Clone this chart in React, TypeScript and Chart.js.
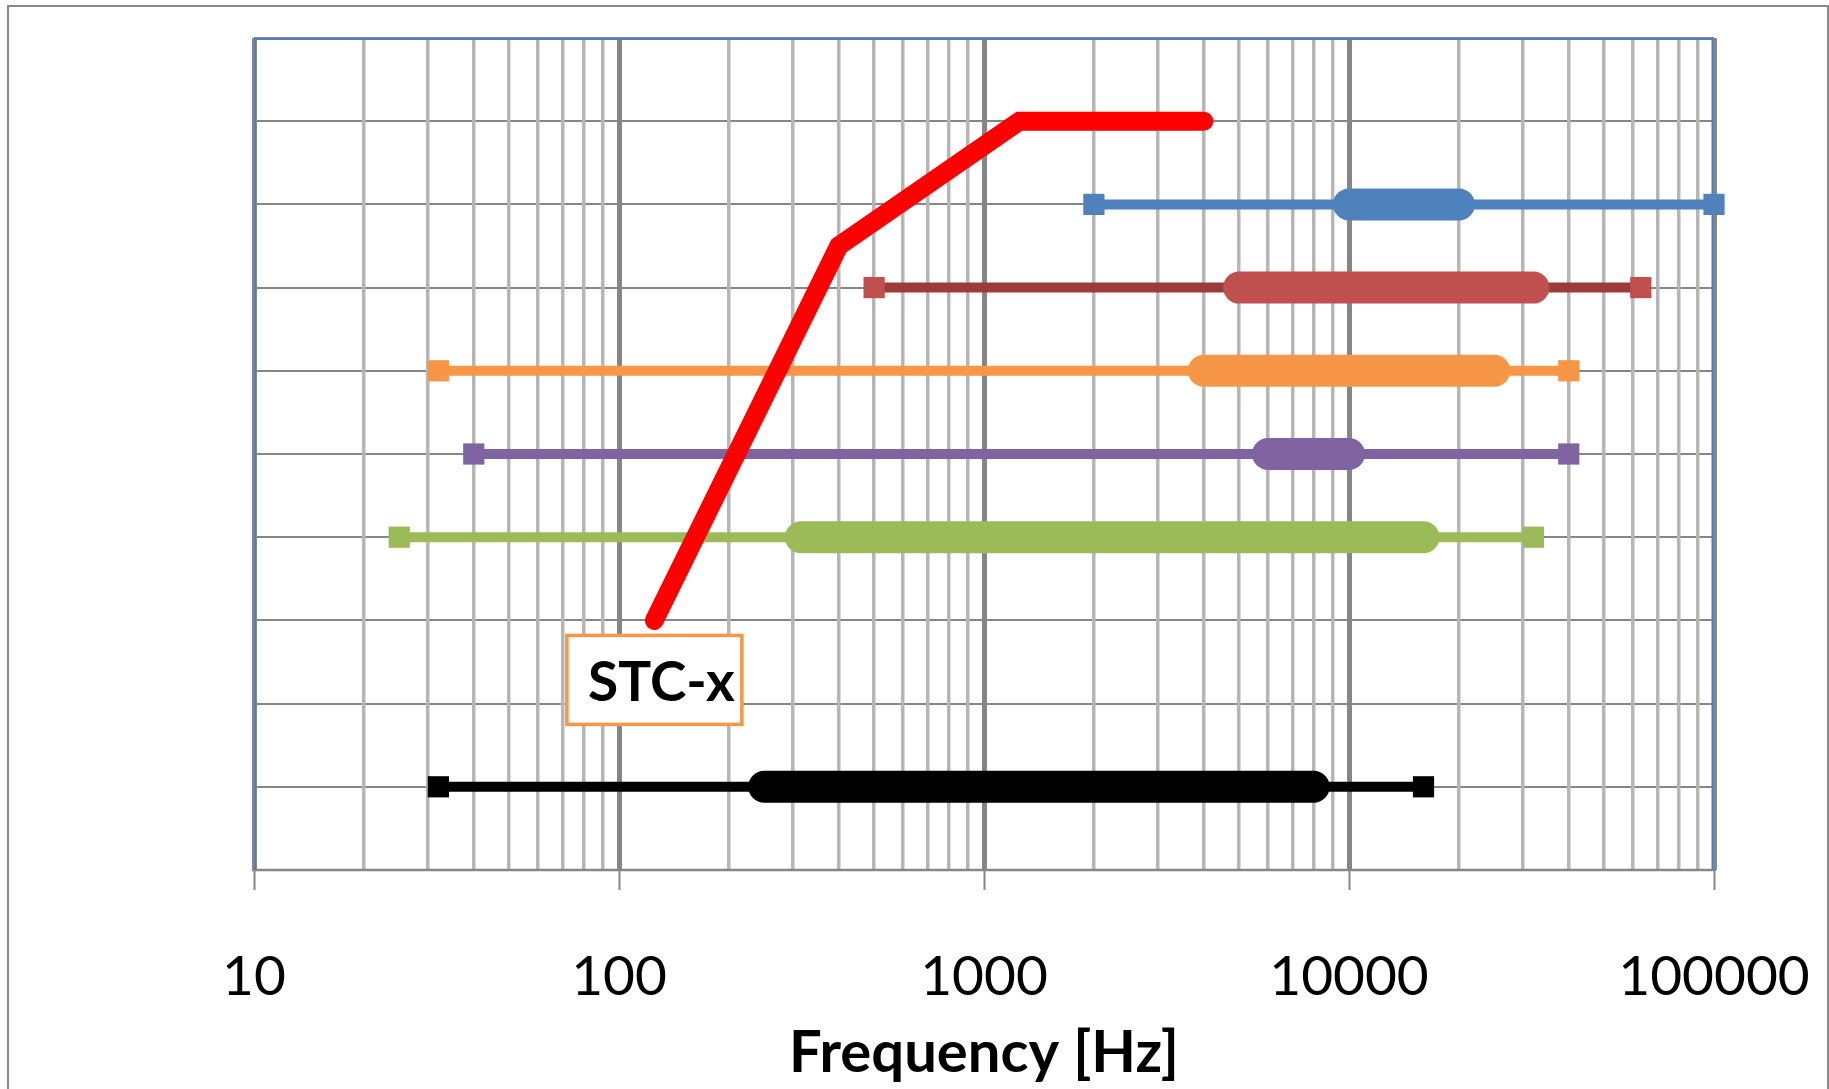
import React, { useEffect, useRef } from 'react';
import { Chart, registerables } from 'chart.js';

Chart.register(...registerables);

// ---- data ----
const xDecades = [10, 100, 1000, 10000, 100000];
const yMin = 0;
const yMax = 10;
const xTitle = 'Frequency [Hz]';

const stcFreq = [125, 400, 1250, 4000];
const stcLevel = [3, 7.5, 9, 9];
const stcLabel = 'STC-x';

const rangeLevel = [8, 7, 6, 5, 4, 1];
const rangeMin = [2000, 500, 32, 40, 25, 32];
const rangeMax = [100000, 63000, 40000, 40000, 32000, 16000];
const coreMin = [10000, 5000, 4000, 6000, 315, 250];
const coreMax = [20000, 32000, 25000, 10000, 16000, 8000];

// ---- styles ----
const rangeColor = ['#4F81BD', '#C0504D', '#F79646', '#8064A2', '#9BBB59', '#000000'];
const rangeLineColor = ['#4F81BD', '#9D3B39', '#F79646', '#8064A2', '#9BBB59', '#000000'];
const FONT = 'Lato';

const isDecade = (v: number) => {
  const l = Math.log10(v);
  return Math.abs(l - Math.round(l)) < 1e-9;
};

const xGridValues: number[] = [];
xDecades.forEach((d, i) => {
  if (i < xDecades.length - 1) {
    for (let m = 1; m < 10; m++) xGridValues.push(d * m);
  } else {
    xGridValues.push(d);
  }
});

const framePlugin = {
  id: 'frame',
  beforeDatasetsDraw(chart: any) {
    const { ctx, chartArea } = chart;
    const { left, right, top, bottom } = chartArea;
    ctx.save();
    ctx.strokeStyle = '#868686';
    ctx.lineWidth = 2.5;
    ctx.beginPath();
    ctx.moveTo(left - 2, bottom);
    ctx.lineTo(right + 2, bottom);
    ctx.stroke();
    ctx.strokeStyle = '#4F81BD';
    ctx.lineWidth = 2;
    ctx.beginPath();
    ctx.moveTo(left + 1, bottom);
    ctx.lineTo(left + 1, top + 1);
    ctx.lineTo(right - 1.5, top + 1);
    ctx.lineTo(right - 1.5, bottom);
    ctx.stroke();
    ctx.restore();
  },
  afterDatasetsDraw(chart: any) {
    const { ctx, scales } = chart;
    const ax = scales.x.getPixelForValue(stcFreq[0]);
    const ay = scales.y.getPixelForValue(stcLevel[0]);
    const w = 175;
    const h = 89;
    const top = ay + 15;
    const left = ax - w / 2;
    ctx.save();
    ctx.fillStyle = '#FFFFFF';
    ctx.fillRect(left, top, w, h);
    ctx.strokeStyle = '#F79646';
    ctx.lineWidth = 3.5;
    ctx.strokeRect(left, top, w, h);
    ctx.font = `bold 55px ${FONT}`;
    ctx.fillStyle = '#000000';
    ctx.textAlign = 'center';
    ctx.textBaseline = 'alphabetic';
    ctx.fillText(stcLabel, ax + 7, top + 66);
    ctx.restore();
  },
};

export default function App() {
  const ref = useRef<HTMLCanvasElement>(null);

  useEffect(() => {
    if (!ref.current) return;
    const datasets: any[] = [
      {
        label: 'STC',
        data: stcFreq.map((f, i) => ({ x: f, y: stcLevel[i] })),
        borderColor: '#FF0000',
        borderWidth: 19,
        borderCapStyle: 'round',
        borderJoinStyle: 'miter',
        pointRadius: 0,
        tension: 0,
        fill: false,
        clip: false,
      },
      ...rangeLevel.map((lv, i) => ({
        label: 'core' + i,
        data: [
          { x: coreMin[i], y: lv },
          { x: coreMax[i], y: lv },
        ],
        borderColor: rangeColor[i],
        borderWidth: 32,
        borderCapStyle: 'round',
        pointRadius: 0,
        tension: 0,
        fill: false,
        clip: false,
      })),
      ...rangeLevel.map((lv, i) => ({
        label: 'range' + i,
        data: [
          { x: rangeMin[i], y: lv },
          { x: rangeMax[i], y: lv },
        ],
        borderColor: rangeLineColor[i],
        borderWidth: 10,
        borderCapStyle: 'butt',
        pointStyle: 'rect',
        pointRadius: 15,
        pointHoverRadius: 15,
        pointBackgroundColor: rangeColor[i],
        pointBorderWidth: 0,
        tension: 0,
        fill: false,
        clip: false,
      })),
    ];

    const chart = new Chart(ref.current, {
      type: 'line',
      data: { datasets },
      plugins: [framePlugin],
      options: {
        animation: false,
        responsive: false,
        devicePixelRatio: 1,
        layout: { padding: { left: 245, top: 31, right: 113, bottom: 0 } },
        plugins: { legend: { display: false }, tooltip: { enabled: false } },
        events: [],
        scales: {
          y: {
            type: 'linear',
            min: yMin,
            max: yMax,
            ticks: { display: false, stepSize: 1 },
            grid: { color: '#868686', lineWidth: 2, drawTicks: false },
            border: { display: false },
            afterFit: (s: any) => {
              s.width = 0;
            },
          },
          x: {
            type: 'logarithmic',
            position: 'bottom',
            min: xDecades[0],
            max: xDecades[xDecades.length - 1],
            afterBuildTicks: (scale: any) => {
              scale.ticks = xGridValues.map((v) => ({ value: v }));
            },
            ticks: {
              autoSkip: false,
              maxRotation: 0,
              minRotation: 0,
              padding: 54,
              color: '#000000',
              font: { family: FONT, size: 55 },
              callback: (v: any) => (isDecade(Number(v)) ? String(v) : ''),
            },
            grid: {
              color: (c: any) => (c.tick && isDecade(c.tick.value) ? '#868686' : '#B6B6B6'),
              lineWidth: (c: any) => (c.tick && isDecade(c.tick.value) ? 5 : 3.5),
              tickColor: (c: any) => (c.tick && isDecade(c.tick.value) ? '#868686' : 'rgba(0,0,0,0)'),
              tickWidth: 2,
              tickLength: 20,
              drawTicks: true,
            },
            border: { display: false },
            title: {
              display: true,
              text: xTitle,
              color: '#000000',
              font: { family: FONT, size: 58, weight: 'bold' },
              padding: { top: 0, bottom: 1 },
            },
            afterFit: (s: any) => {
              s.height = 219;
              s.paddingLeft = 0;
              s.paddingRight = 0;
            },
          },
        },
      } as any,
    });
    return () => chart.destroy();
  }, []);

  return (
    <div
      style={{
        position: 'fixed',
        left: 7,
        top: 5,
        width: 1822,
        height: 1200,
        border: '2px solid #898989',
        boxSizing: 'border-box',
        background: '#FFFFFF',
      }}
    >
      <canvas
        ref={ref}
        width={1818}
        height={1082}
        style={{ position: 'absolute', left: 0, top: 0, display: 'block' }}
      />
    </div>
  );
}
